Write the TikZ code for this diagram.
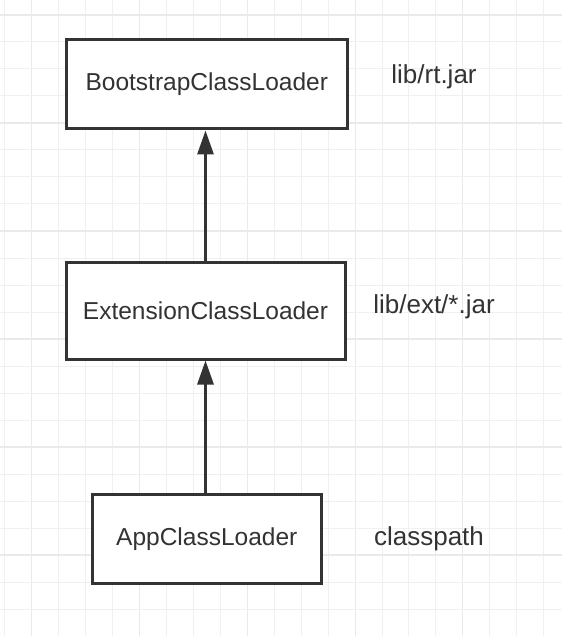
\documentclass[tikz,border=0pt]{standalone}
\usepackage{fontspec}
\setmainfont{Liberation Sans}
\usetikzlibrary{arrows.meta}
\definecolor{gridminor}{HTML}{F0F0F0}
\definecolor{gridmajor}{HTML}{EAEAEA}
\definecolor{ink}{HTML}{333333}
\begin{document}
\begin{tikzpicture}[x=1pt,y=-1pt,
  box/.style={draw=ink, line width=3pt, fill=white, rectangle, inner sep=0pt,
    text=ink, font=\fontsize{24.5}{28}\selectfont},
  lbl/.style={text=ink, inner sep=0pt, font=\fontsize{26}{30}\selectfont},
  link/.style={draw=ink, line width=3pt, -{Triangle[length=24pt,width=16pt]}}]
\useasboundingbox (0,0) rectangle (562,636);
\fill[white] (0,0) rectangle (562,636);
% grid
\foreach \i in {0,...,20}{
  \pgfmathtruncatemacro\m{mod(\i,4)}
  \pgfmathsetmacro\xx{4.7+26.95*\i}
  \ifnum\m=1
    \draw[gridmajor, line width=1.1pt] (\xx,0) -- (\xx,636);
  \else
    \draw[gridminor, line width=1pt] (\xx,0) -- (\xx,636);
  \fi
}
\foreach \i in {0,...,23}{
  \pgfmathtruncatemacro\m{mod(\i,4)}
  \pgfmathsetmacro\yy{15+27*\i}
  \ifnum\m=0
    \draw[gridmajor, line width=1.1pt] (0,\yy) -- (562,\yy);
  \else
    \draw[gridminor, line width=1pt] (0,\yy) -- (562,\yy);
  \fi
}
% boxes
\node[box, minimum width=281.5pt, minimum height=89.3pt] (boot) at (206.75,84.35) {BootstrapClassLoader};
\node[box, minimum width=279pt, minimum height=97pt] (ext) at (205.5,310.5) {ExtensionClassLoader};
\node[box, minimum width=229.5pt, minimum height=88.5pt] (app) at (206.75,538.75) {AppClassLoader};
% labels
\node[lbl, anchor=base] (l1) at (434,84) {lib/rt.jar};
\node[lbl, anchor=base] (l2) at (434,313.3) {lib/ext/*.jar};
\node[lbl, anchor=base] (l3) at (429,545.7) {classpath};
% connectors
\draw[link] (app.north -| ext.south) -- (ext.south);
\draw[link] (ext.north) -- (ext.north |- boot.south);
\end{tikzpicture}
\end{document}
